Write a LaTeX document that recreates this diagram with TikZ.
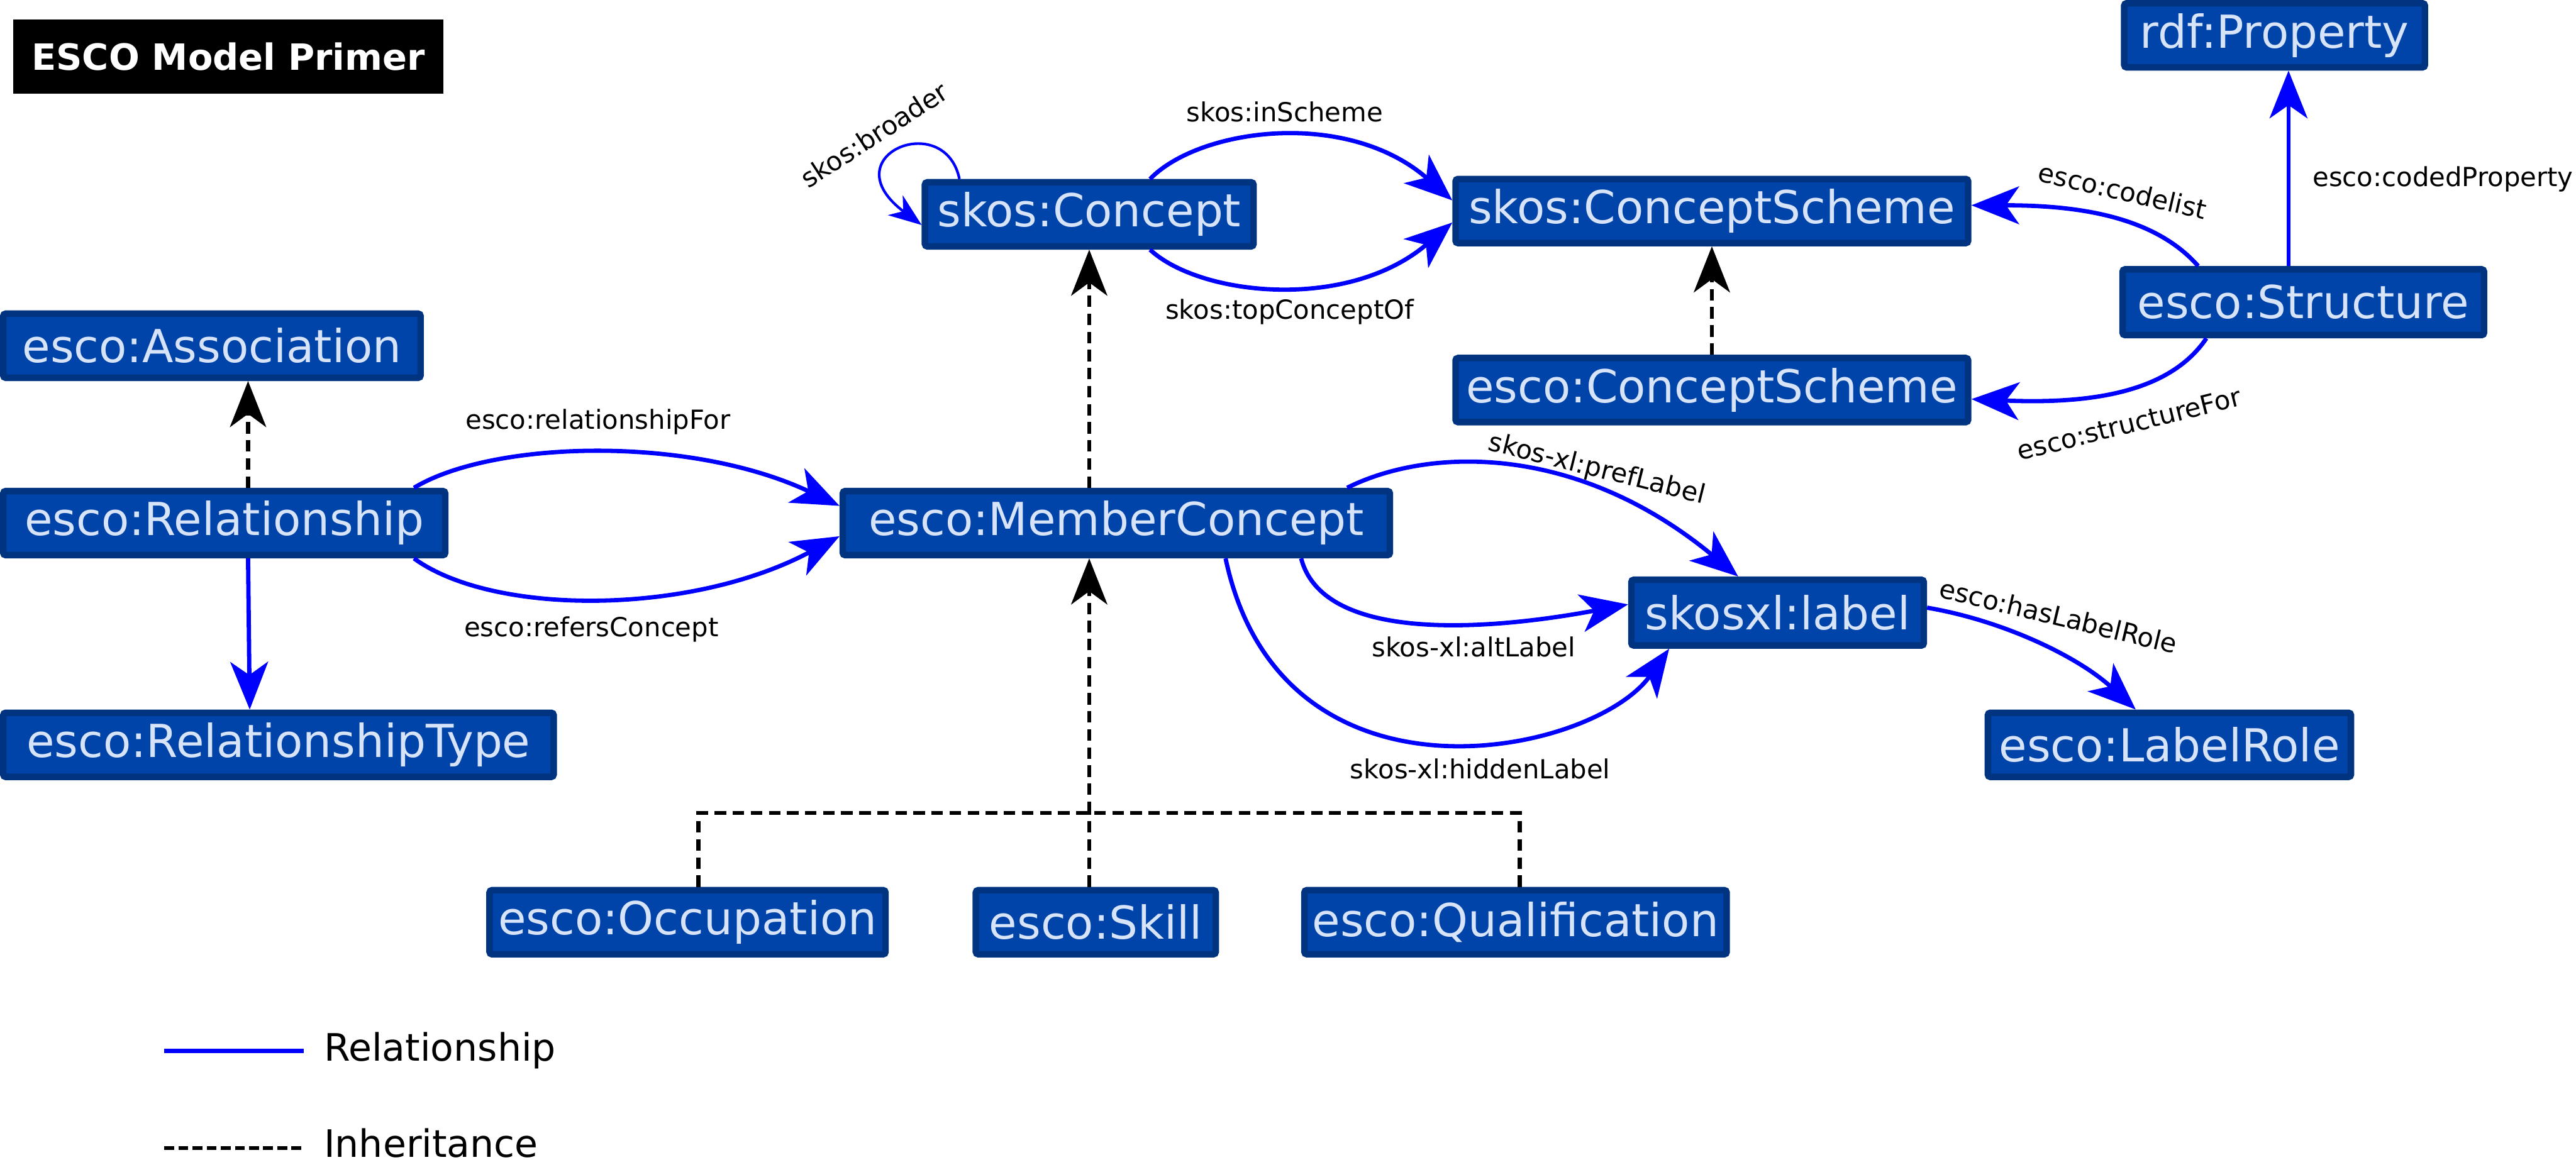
\documentclass[tikz,border=0pt]{standalone}
\usepackage{fontspec}
\setmainfont{DejaVu Sans}
\usetikzlibrary{arrows.meta}
\definecolor{boxfill}{HTML}{0044AA}
\definecolor{boxline}{HTML}{003380}
\definecolor{boxtext}{HTML}{D7E3F8}
\definecolor{relblue}{HTML}{0000FF}
\tikzset{
 cls/.style={draw=boxline, line width=4pt, fill=boxfill, text=boxtext, rounded corners=1.5pt, inner sep=0pt, minimum height=39pt, font=\fontsize{27.7}{32}\selectfont},
 rel/.style={draw=relblue, line width=2.6pt},
 relarrow/.style={rel, -{Stealth[length=29pt,width=23pt,inset=8pt]}},
 inh/.style={draw=black, line width=2.6pt, dash pattern=on 7pt off 4pt},
 inharrow/.style={inh, -{Stealth[length=28pt,width=22pt,inset=8pt]}},
 lbl/.style={font=\fontsize{16}{19}\selectfont, text=black, inner sep=0pt},
 legtext/.style={font=\fontsize{23}{27}\selectfont, text=black, inner sep=0pt, anchor=base west},
}
\begin{document}
\begin{tikzpicture}[x=1pt,y=-1pt]
\useasboundingbox (0,0) rectangle (1568,706);

% title
\node[fill=black, text=white, font=\bfseries\fontsize{22}{26}\selectfont, minimum width=262pt, minimum height=45pt, inner sep=0pt] (title) at (139,34.5) {ESCO Model Primer};

% classes
\node[cls, minimum width=200pt] (concept) at (663,130.5) {skos:Concept};
\node[cls, minimum width=312pt] (cscheme) at (1042,128.5) {skos:ConceptScheme};
\node[cls, minimum width=183pt] (rdfprop) at (1384.5,21.5) {rdf:Property};
\node[cls, minimum width=220pt, minimum height=40pt] (structure) at (1402,184) {esco:Structure};
\node[cls, minimum width=312pt] (escocs) at (1042,237.5) {esco:ConceptScheme};
\node[cls, minimum width=254pt] (assoc) at (129,210.5) {esco:Association};
\node[cls, minimum width=269pt] (rel) at (136.5,318.5) {esco:Relationship};
\node[cls, minimum width=335pt] (reltype) at (169.5,453.5) {esco:RelationshipType};
\node[cls, minimum width=333pt] (member) at (679.5,318.5) {esco:MemberConcept};
\node[cls, minimum width=178pt, minimum height=40pt] (label) at (1082,373) {skosxl:label};
\node[cls, minimum width=221pt] (labelrole) at (1320.5,453.5) {esco:LabelRole};
\node[cls, minimum width=241pt] (occ) at (418.5,561.5) {esco:Occupation};
\node[cls, minimum width=146pt] (skill) at (667,561.5) {esco:Skill};
\node[cls, minimum width=257pt] (qual) at (922.5,561.5) {esco:Qualification};

% inheritance
\draw[inharrow] (member.north -| 663,0) -- (concept.south -| 663,0);
\draw[inharrow] (escocs.north) -- (cscheme.south);
\draw[inharrow] (rel.north -| 151,0) -- (assoc.south -| 151,0);
\coordinate (tj) at (663,495);
\coordinate (tl) at (425,495);
\coordinate (tr) at (925,495);
\draw[inh] (tl |- occ.north) -- (tl) -- (tr) -- (tr |- qual.north);
\draw[inh] (tj |- skill.north) -- (tj);
\draw[inharrow] (tj) -- (tj |- member.south);

% relationships
\draw[rel, -{Stealth[length=20pt,width=15pt,inset=6pt]}, line width=1.6pt]
  ([xshift=-79pt]concept.north) .. controls (575,66) and (505,95) .. ([yshift=-6.5pt]concept.west);
\draw[relarrow] ([xshift=37pt]concept.north) .. controls (730,78) and (820,66) .. ([yshift=6.5pt]cscheme.west);
\draw[relarrow] ([xshift=37pt]concept.south) .. controls (730,180) and (820,190) .. ([yshift=-7pt]cscheme.west);
\draw[relarrow] (rel.south -| 151,0) -- (reltype.north -| 152,0);
\draw[relarrow] ([xshift=-21pt]rel.north east) .. controls (300,268) and (420,265) .. ([yshift=10.5pt]member.west);
\draw[relarrow] ([xshift=-21pt]rel.south east) .. controls (300,375) and (420,375) .. ([yshift=-8pt]member.west);
\draw[relarrow] ([xshift=-9pt]structure.north) -- ([xshift=8.5pt]rdfprop.south);
\draw[relarrow] ([xshift=-64pt]structure.north) .. controls (1310,130) and (1260,125) .. ([yshift=3.5pt]cscheme.east);
\draw[relarrow] ([xshift=-59pt]structure.south) .. controls (1320,240) and (1270,246) .. ([yshift=-5.5pt]escocs.east);
\draw[relarrow] ([xshift=-28pt]member.north east) .. controls (870,272) and (960,270) .. ([xshift=-24pt]label.north);
\draw[relarrow] ([xshift=-56pt]member.south east) .. controls (805,390) and (900,385) .. ([yshift=5pt]label.west);
\draw[relarrow] ([xshift=66.5pt]member.south) .. controls (780,500) and (970,460) .. ([xshift=25pt]label.south west);
\draw[relarrow] ([yshift=3pt]label.east) .. controls (1220,378) and (1265,400) .. ([xshift=-20.5pt]labelrole.north);

% edge labels
\node[lbl, rotate=33] (lbroader) at (532,82) {skos:broader};
\node[lbl] (linscheme) at (782,68) {skos:inScheme};
\node[lbl] (ltop) at (785,190) {skos:topConceptOf};
\node[lbl] (lrelfor) at (364,257) {esco:relationshipFor};
\node[lbl] (lrefers) at (360,383) {esco:refersConcept};
\node[lbl] (lcoded) at (1487,109) {esco:codedProperty};
\node[lbl, rotate=-13] (lcodelist) at (1292,116) {esco:codelist};
\node[lbl, rotate=14] (lstructfor) at (1296,258) {esco:structureFor};
\node[lbl, rotate=-14] (lpref) at (972,286) {skos-xl:prefLabel};
\node[lbl] (lalt) at (897,394) {skos-xl:altLabel};
\node[lbl] (lhidden) at (901,468) {skos-xl:hiddenLabel};
\node[lbl, rotate=-13.5] (lrole) at (1253,375) {esco:hasLabelRole};

% legend
\coordinate (lg1a) at (100,640);
\coordinate (lg1b) at (185,640);
\coordinate (lg2a) at (100,699);
\coordinate (lg2b) at (185,699);
\draw[rel, line width=2.6pt] (lg1a) -- (lg1b);
\draw[inh, dash pattern=on 6pt off 2.6pt] (lg2a) -- (lg2b);
\node[legtext] (legrel) at (197,646) {Relationship};
\node[legtext] (leginh) at (197,704.5) {Inheritance};
\end{tikzpicture}
\end{document}
